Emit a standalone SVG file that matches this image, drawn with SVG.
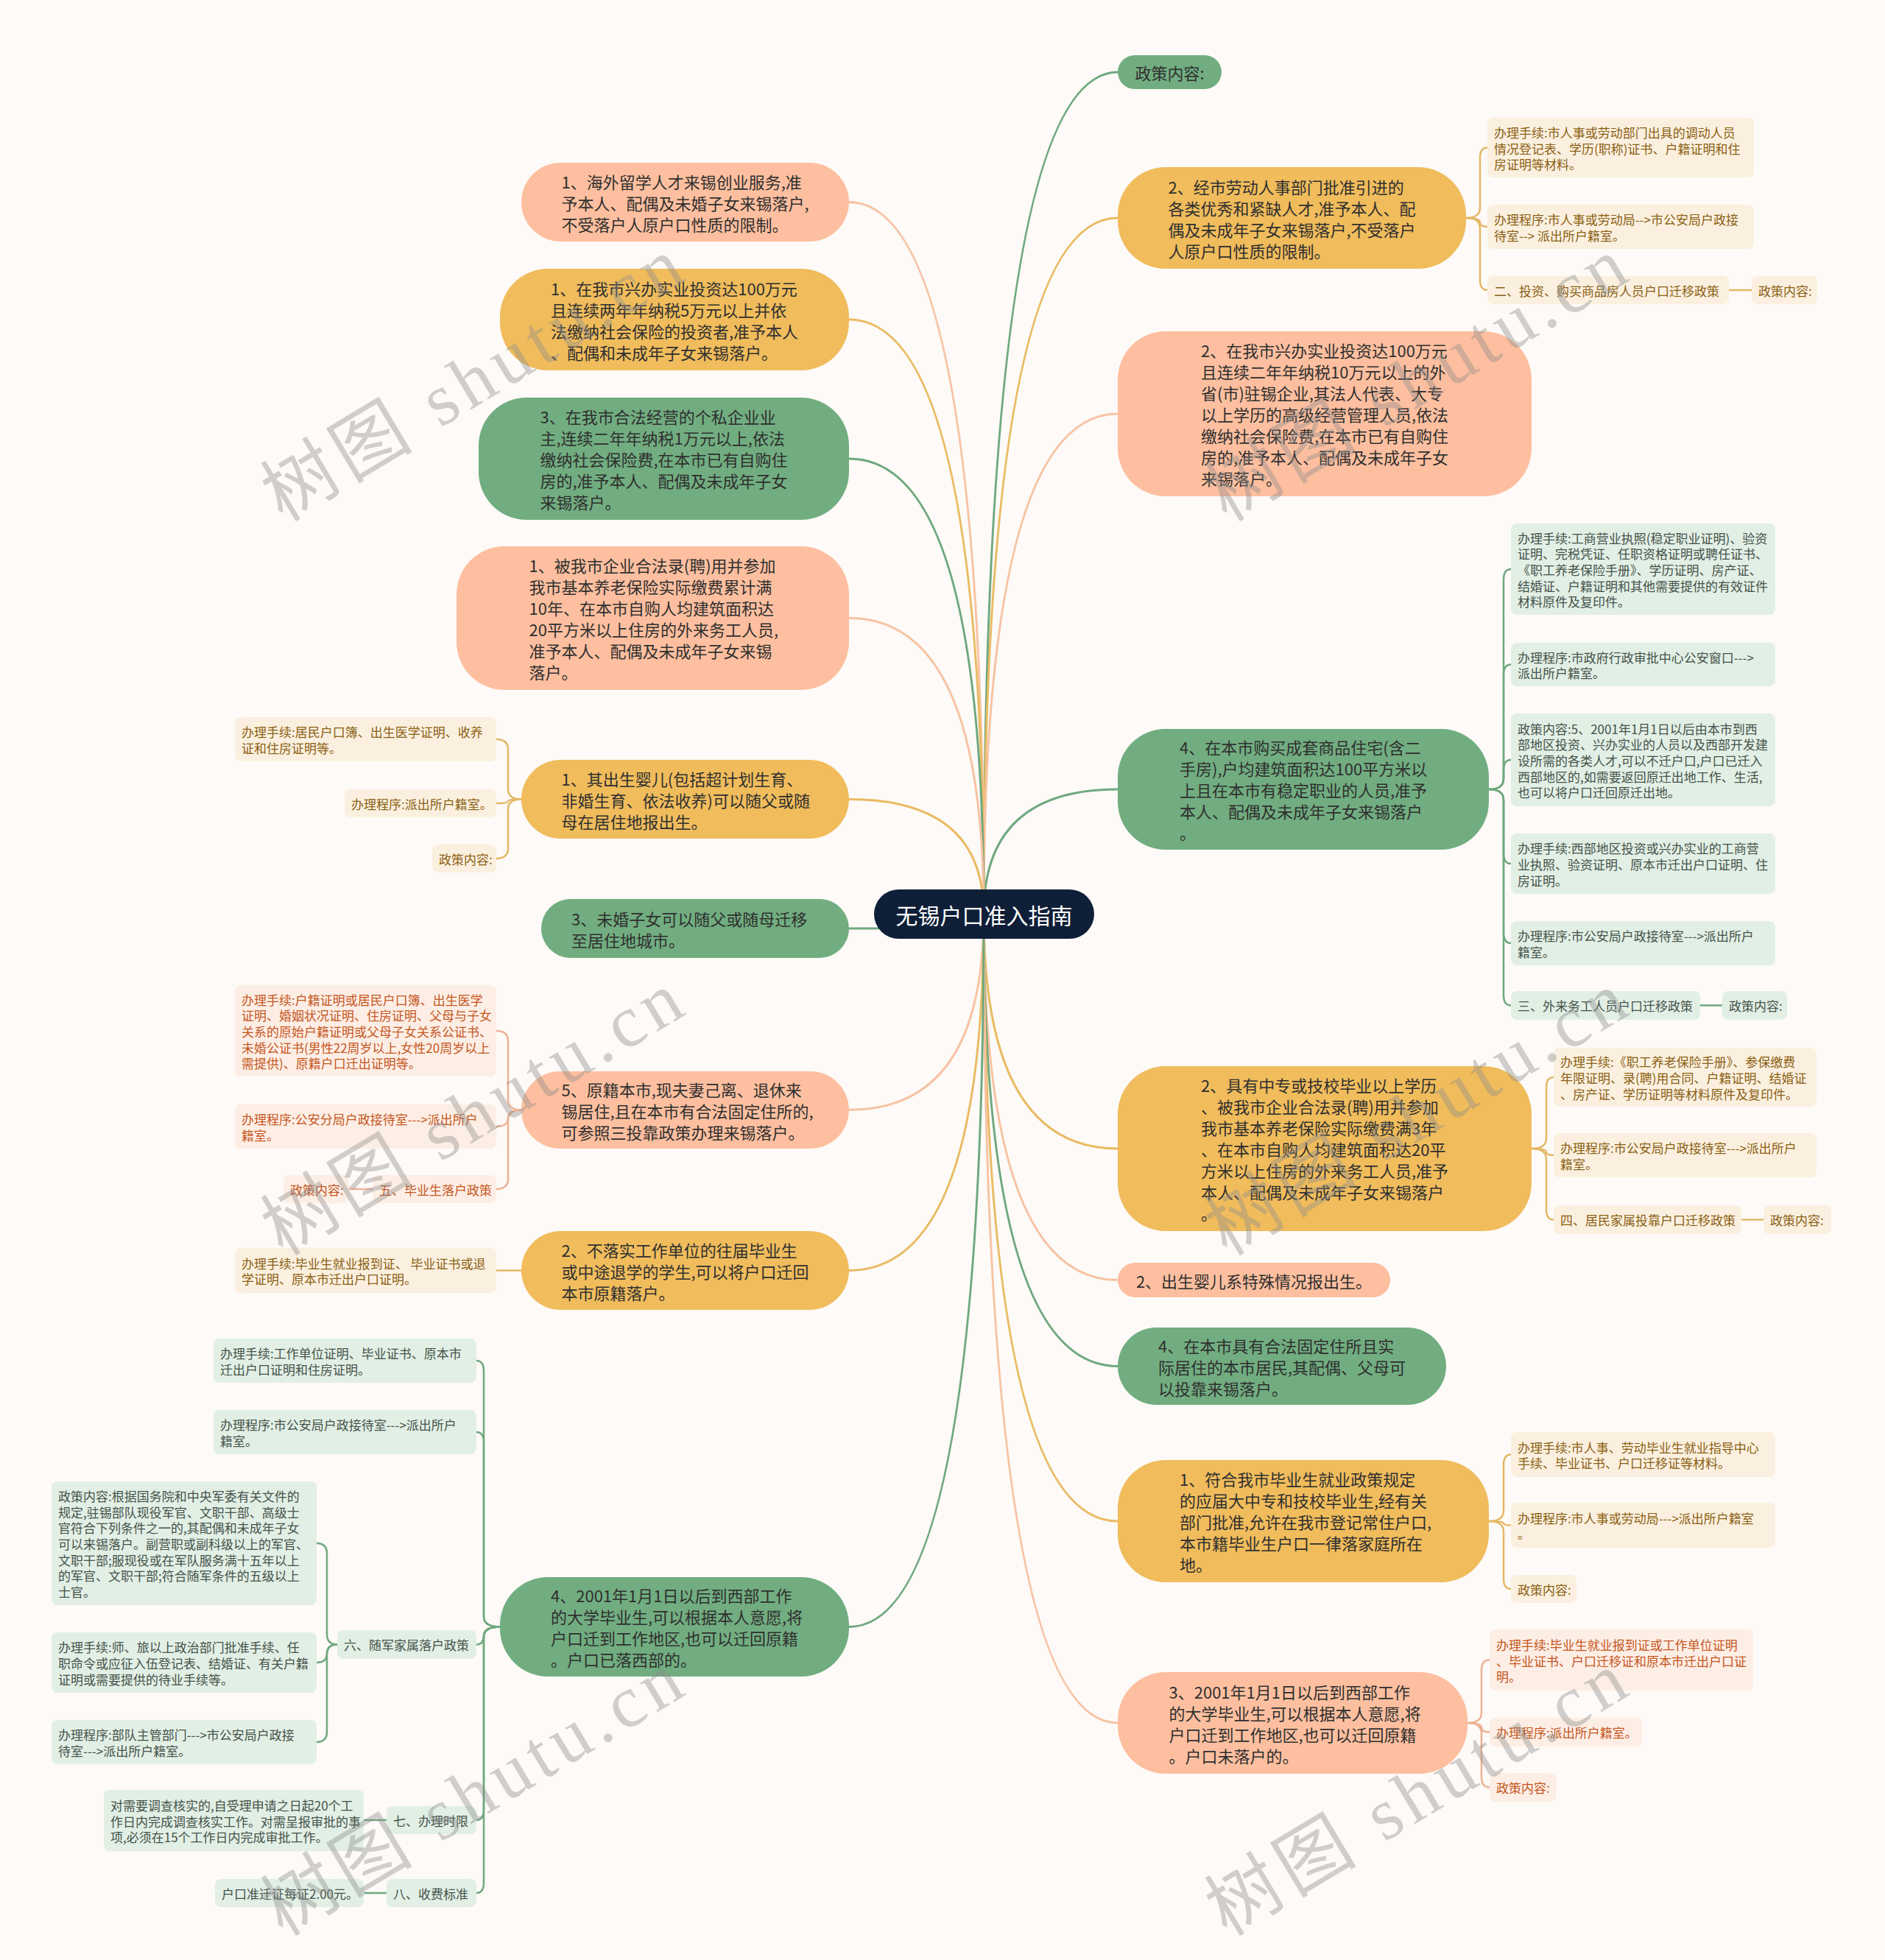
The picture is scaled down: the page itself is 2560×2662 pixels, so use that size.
<svg xmlns="http://www.w3.org/2000/svg" width="2560" height="2662" viewBox="0 0 2560 2662">
<style>
.mt{font-family:"Noto Sans CJK SC","Noto Sans",sans-serif;font-size:22px;fill:#2f2f2f;dominant-baseline:central}
.st{font-family:"Noto Sans CJK SC","Noto Sans",sans-serif;font-size:17px;dominant-baseline:central}
.np{fill:#fdbf9f}.ng{fill:#f0bc5c}.nn{fill:#71ad80}
.bp{fill:#fdeee5}.bg{fill:#fbf0df}.bn{fill:#e2efe5}
.tp{fill:#c4561e}.tg{fill:#8a5f14}.tn{fill:#44524a}
.lp{fill:none;stroke:#f7c3a3;stroke-width:3}
.lg{fill:none;stroke:#e9bb62;stroke-width:3}
.ln{fill:none;stroke:#6fa87f;stroke-width:3}
.cp{fill:none;stroke:#eeb295;stroke-width:2.5}
.cg{fill:none;stroke:#e3b866;stroke-width:2.5}
.cn{fill:none;stroke:#6fa87f;stroke-width:2.5}
.wm{font-family:"Liberation Serif","Noto Sans CJK SC",serif;font-size:100px;fill:#8c8c8c;fill-opacity:0.4;letter-spacing:8px;text-anchor:middle;dominant-baseline:central}
</style>
<rect width="2560" height="2662" fill="#fdfaf7"/>

<g id="connectors">
<path class="ln" d="M1336 1241 Q1336 98 1518 98"/>
<path class="lg" d="M1336 1241 Q1336 296 1518 296"/>
<path class="lp" d="M1336 1241 Q1336 562 1518 562"/>
<path class="ln" d="M1336 1241 Q1336 1072 1518 1072"/>
<path class="lg" d="M1336 1241 Q1336 1560 1518 1560"/>
<path class="lp" d="M1336 1241 Q1336 1738.5 1518 1738.5"/>
<path class="ln" d="M1336 1241 Q1336 1855.5 1518 1855.5"/>
<path class="lg" d="M1336 1241 Q1336 2066 1518 2066"/>
<path class="lp" d="M1336 1241 Q1336 2340 1518 2340"/>
<path class="lp" d="M1336 1241 Q1336 274.5 1153 274.5"/>
<path class="lg" d="M1336 1241 Q1336 434 1153 434"/>
<path class="ln" d="M1336 1241 Q1336 623 1153 623"/>
<path class="lp" d="M1336 1241 Q1336 839.5 1153 839.5"/>
<path class="lg" d="M1336 1241 Q1336 1085.5 1153 1085.5"/>
<path class="ln" d="M1336 1241 Q1336 1261 1153 1261"/>
<path class="lp" d="M1336 1241 Q1336 1507.5 1153 1507.5"/>
<path class="lg" d="M1336 1241 Q1336 1725.5 1153 1725.5"/>
<path class="ln" d="M1336 1241 Q1336 2209.5 1153 2209.5"/>

<path class="cg" d="M1991 296 Q2010 296 2010 282 L2010 214.5 Q2010 200.5 2020 200.5"/>
<path class="cg" d="M1991 296 Q2010 296 2010 302 L2010 302 Q2010 308 2020 308"/>
<path class="cg" d="M1991 296 Q2010 296 2010 310 L2010 380 Q2010 394 2020 394"/>
<path class="cg" d="M2348 394 L2379 394"/>

<path class="cn" d="M2022 1072 Q2042 1072 2042 1058 L2042 787 Q2042 773 2052 773"/>
<path class="cn" d="M2022 1072 Q2042 1072 2042 1058 L2042 916.5 Q2042 902.5 2052 902.5"/>
<path class="cn" d="M2022 1072 Q2042 1072 2042 1058 L2042 1046 Q2042 1032 2052 1032"/>
<path class="cn" d="M2022 1072 Q2042 1072 2042 1086 L2042 1159 Q2042 1173 2052 1173"/>
<path class="cn" d="M2022 1072 Q2042 1072 2042 1086 L2042 1267 Q2042 1281 2052 1281"/>
<path class="cn" d="M2022 1072 Q2042 1072 2042 1086 L2042 1351.5 Q2042 1365.5 2052 1365.5"/>
<path class="cn" d="M2309 1365.5 L2339 1365.5"/>

<path class="cg" d="M2080 1560 Q2100 1560 2100 1546 L2100 1477 Q2100 1463 2110 1463"/>
<path class="cg" d="M2080 1560 Q2100 1560 2100 1564.5 L2100 1564.5 Q2100 1569 2110 1569"/>
<path class="cg" d="M2080 1560 Q2100 1560 2100 1574 L2100 1642.5 Q2100 1656.5 2110 1656.5"/>
<path class="cg" d="M2365 1656.5 L2395 1656.5"/>

<path class="cg" d="M2022 2066 Q2042 2066 2042 2052 L2042 1989.5 Q2042 1975.5 2052 1975.5"/>
<path class="cg" d="M2022 2066 Q2042 2066 2042 2068.75 L2042 2068.75 Q2042 2071.5 2052 2071.5"/>
<path class="cg" d="M2022 2066 Q2042 2066 2042 2080 L2042 2144 Q2042 2158 2052 2158"/>

<path class="cp" d="M1993 2340 Q2012 2340 2012 2326 L2012 2268.5 Q2012 2254.5 2023 2254.5"/>
<path class="cp" d="M1993 2340 Q2012 2340 2012 2346.25 L2012 2346.25 Q2012 2352.5 2023 2352.5"/>
<path class="cp" d="M1993 2340 Q2012 2340 2012 2354 L2012 2413.5 Q2012 2427.5 2023 2427.5"/>

<path class="cg" d="M708 1085.5 Q690 1085.5 690 1071.5 L690 1018 Q690 1004 674 1004"/>
<path class="cg" d="M708 1085.5 Q690 1085.5 690 1088.25 L690 1088.25 Q690 1091 674 1091"/>
<path class="cg" d="M708 1085.5 Q690 1085.5 690 1099.5 L690 1152 Q690 1166 674 1166"/>

<path class="cp" d="M708 1507.5 Q690 1507.5 690 1493.5 L690 1414 Q690 1400 674 1400"/>
<path class="cp" d="M708 1507.5 Q690 1507.5 690 1518.75 L690 1518.75 Q690 1530 674 1530"/>
<path class="cp" d="M708 1507.5 Q690 1507.5 690 1521.5 L690 1601 Q690 1615 674 1615"/>
<path class="cp" d="M506 1615 L474 1615"/>

<path class="cg" d="M708 1725.5 L674 1725.5"/>

<path class="cn" d="M679 2209.5 Q657 2209.5 657 2195.5 L657 1862 Q657 1848 647 1848"/>
<path class="cn" d="M679 2209.5 Q657 2209.5 657 2195.5 L657 1959 Q657 1945 647 1945"/>
<path class="cn" d="M679 2209.5 Q657 2209.5 657 2221.5 L657 2221.5 Q657 2233.5 647 2233.5"/>
<path class="cn" d="M679 2209.5 Q657 2209.5 657 2223.5 L657 2458 Q657 2472 647 2472"/>
<path class="cn" d="M679 2209.5 Q657 2209.5 657 2223.5 L657 2557 Q657 2571 647 2571"/>
<path class="cn" d="M525 2472 L494 2472"/>
<path class="cn" d="M525 2571 L494 2571"/>

<path class="cn" d="M458 2233.5 Q444 2233.5 444 2219.5 L444 2110 Q444 2096 430 2096"/>
<path class="cn" d="M458 2233.5 Q444 2233.5 444 2245.75 L444 2245.75 Q444 2258 430 2258"/>
<path class="cn" d="M458 2233.5 Q444 2233.5 444 2247.5 L444 2352 Q444 2366 430 2366"/>
</g>

<g id="root">
<rect x="1187" y="1208" width="299" height="67" rx="33.5" fill="#0f1f38"/>
<text x="1336.5" y="1241.5" font-family="'Noto Sans CJK SC','Noto Sans',sans-serif" font-size="30" fill="#ffffff" text-anchor="middle" dominant-baseline="central">无锡户口准入指南</text>
</g>

<!-- Left main nodes -->
<g id="L1"><rect class="np" x="708" y="221" width="445" height="107" rx="53.5"/>
<text class="mt"><tspan x="762.5" y="245.5">1、海外留学人才来锡创业服务,准</tspan><tspan x="762.5" y="274.5">予本人、配偶及未婚子女来锡落户,</tspan><tspan x="762.5" y="303.5">不受落户人原户口性质的限制。</tspan></text></g>
<g id="L2"><rect class="ng" x="679" y="365" width="474" height="138" rx="65"/>
<text class="mt"><tspan x="748" y="390.5">1、在我市兴办实业投资达100万元</tspan><tspan x="748" y="419.5">且连续两年年纳税5万元以上并依</tspan><tspan x="748" y="448.5">法缴纳社会保险的投资者,准予本人</tspan><tspan x="748" y="477.5">、配偶和未成年子女来锡落户。</tspan></text></g>
<g id="L3"><rect class="nn" x="650" y="540" width="503" height="166" rx="65"/>
<text class="mt"><tspan x="733.5" y="565">3、在我市合法经营的个私企业业</tspan><tspan x="733.5" y="594">主,连续二年年纳税1万元以上,依法</tspan><tspan x="733.5" y="623">缴纳社会保险费,在本市已有自购住</tspan><tspan x="733.5" y="652">房的,准予本人、配偶及未成年子女</tspan><tspan x="733.5" y="681">来锡落户。</tspan></text></g>
<g id="L4"><rect class="np" x="620" y="742" width="533" height="195" rx="65"/>
<text class="mt"><tspan x="718.5" y="767">1、被我市企业合法录(聘)用并参加</tspan><tspan x="718.5" y="796">我市基本养老保险实际缴费累计满</tspan><tspan x="718.5" y="825">10年、在本市自购人均建筑面积达</tspan><tspan x="718.5" y="854">20平方米以上住房的外来务工人员,</tspan><tspan x="718.5" y="883">准予本人、配偶及未成年子女来锡</tspan><tspan x="718.5" y="912">落户。</tspan></text></g>
<g id="L5"><rect class="ng" x="708" y="1032" width="445" height="107" rx="53.5"/>
<text class="mt"><tspan x="762.5" y="1056.5">1、其出生婴儿(包括超计划生育、</tspan><tspan x="762.5" y="1085.5">非婚生育、依法收养)可以随父或随</tspan><tspan x="762.5" y="1114.5">母在居住地报出生。</tspan></text></g>
<g id="L6"><rect class="nn" x="735" y="1221" width="418" height="80" rx="40"/>
<text class="mt"><tspan x="776" y="1246.5">3、未婚子女可以随父或随母迁移</tspan><tspan x="776" y="1275.5">至居住地城市。</tspan></text></g>
<g id="L7"><rect class="np" x="708" y="1455" width="445" height="105" rx="52.5"/>
<text class="mt"><tspan x="762.5" y="1478.5">5、原籍本市,现夫妻己离、退休来</tspan><tspan x="762.5" y="1507.5">锡居住,且在本市有合法固定住所的,</tspan><tspan x="762.5" y="1536.5">可参照三投靠政策办理来锡落户。</tspan></text></g>
<g id="L8"><rect class="ng" x="708" y="1672" width="445" height="107" rx="53.5"/>
<text class="mt"><tspan x="762.5" y="1696.5">2、不落实工作单位的往届毕业生</tspan><tspan x="762.5" y="1725.5">或中途退学的学生,可以将户口迁回</tspan><tspan x="762.5" y="1754.5">本市原籍落户。</tspan></text></g>
<g id="L9"><rect class="nn" x="679" y="2142" width="474" height="135" rx="65"/>
<text class="mt"><tspan x="748" y="2166">4、2001年1月1日以后到西部工作</tspan><tspan x="748" y="2195">的大学毕业生,可以根据本人意愿,将</tspan><tspan x="748" y="2224">户口迁到工作地区,也可以迁回原籍</tspan><tspan x="748" y="2253">。户口已落西部的。</tspan></text></g>

<!-- Right main nodes -->
<g id="R1"><rect class="nn" x="1518" y="75" width="141" height="46" rx="23"/>
<text class="mt" x="1588.5" y="98" text-anchor="middle">政策内容:</text></g>
<g id="R2"><rect class="ng" x="1518" y="227" width="473" height="138" rx="65"/>
<text class="mt"><tspan x="1586.5" y="252.5">2、经市劳动人事部门批准引进的</tspan><tspan x="1586.5" y="281.5">各类优秀和紧缺人才,准予本人、配</tspan><tspan x="1586.5" y="310.5">偶及未成年子女来锡落户,不受落户</tspan><tspan x="1586.5" y="339.5">人原户口性质的限制。</tspan></text></g>
<g id="R3"><rect class="np" x="1518" y="450" width="562" height="224" rx="65"/>
<text class="mt"><tspan x="1631" y="475">2、在我市兴办实业投资达100万元</tspan><tspan x="1631" y="504">且连续二年年纳税10万元以上的外</tspan><tspan x="1631" y="533">省(市)驻锡企业,其法人代表、大专</tspan><tspan x="1631" y="562">以上学历的高级经营管理人员,依法</tspan><tspan x="1631" y="591">缴纳社会保险费,在本市已有自购住</tspan><tspan x="1631" y="620">房的,准予本人、配偶及未成年子女</tspan><tspan x="1631" y="649">来锡落户。</tspan></text></g>
<g id="R4"><rect class="nn" x="1518" y="990" width="504" height="164" rx="65"/>
<text class="mt"><tspan x="1602" y="1014">4、在本市购买成套商品住宅(含二</tspan><tspan x="1602" y="1043">手房),户均建筑面积达100平方米以</tspan><tspan x="1602" y="1072">上且在本市有稳定职业的人员,准予</tspan><tspan x="1602" y="1101">本人、配偶及未成年子女来锡落户</tspan><tspan x="1602" y="1130">。</tspan></text></g>
<g id="R5"><rect class="ng" x="1518" y="1448" width="562" height="224" rx="65"/>
<text class="mt"><tspan x="1631" y="1473">2、具有中专或技校毕业以上学历</tspan><tspan x="1631" y="1502">、被我市企业合法录(聘)用并参加</tspan><tspan x="1631" y="1531">我市基本养老保险实际缴费满3年</tspan><tspan x="1631" y="1560">、在本市自购人均建筑面积达20平</tspan><tspan x="1631" y="1589">方米以上住房的外来务工人员,准予</tspan><tspan x="1631" y="1618">本人、配偶及未成年子女来锡落户</tspan><tspan x="1631" y="1647">。</tspan></text></g>
<g id="R6"><rect class="np" x="1518" y="1715" width="370" height="47" rx="23.5"/>
<text class="mt" x="1703" y="1738.5" text-anchor="middle">2、出生婴儿系特殊情况报出生。</text></g>
<g id="R7"><rect class="nn" x="1518" y="1803" width="446" height="105" rx="52.5"/>
<text class="mt"><tspan x="1573" y="1826.5">4、在本市具有合法固定住所且实</tspan><tspan x="1573" y="1855.5">际居住的本市居民,其配偶、父母可</tspan><tspan x="1573" y="1884.5">以投靠来锡落户。</tspan></text></g>
<g id="R8"><rect class="ng" x="1518" y="1983" width="504" height="166" rx="65"/>
<text class="mt"><tspan x="1602" y="2008">1、符合我市毕业生就业政策规定</tspan><tspan x="1602" y="2037">的应届大中专和技校毕业生,经有关</tspan><tspan x="1602" y="2066">部门批准,允许在我市登记常住户口,</tspan><tspan x="1602" y="2095">本市籍毕业生户口一律落家庭所在</tspan><tspan x="1602" y="2124">地。</tspan></text></g>
<g id="R9"><rect class="np" x="1518" y="2271" width="475" height="138" rx="65"/>
<text class="mt"><tspan x="1587.5" y="2296.5">3、2001年1月1日以后到西部工作</tspan><tspan x="1587.5" y="2325.5">的大学毕业生,可以根据本人意愿,将</tspan><tspan x="1587.5" y="2354.5">户口迁到工作地区,也可以迁回原籍</tspan><tspan x="1587.5" y="2383.5">。户口未落户的。</tspan></text></g>

<!-- R2 children -->
<g id="R2c1"><rect class="bg" x="2020" y="160" width="362" height="81" rx="8"/>
<text class="st tg"><tspan x="2029" y="178.8">办理手续:市人事或劳动部门出具的调动人员</tspan><tspan x="2029" y="200.5">情况登记表、学历(职称)证书、户籍证明和住</tspan><tspan x="2029" y="222.2">房证明等材料。</tspan></text></g>
<g id="R2c2"><rect class="bg" x="2020" y="278" width="362" height="60" rx="8"/>
<text class="st tg"><tspan x="2029" y="297.2">办理程序:市人事或劳动局--&gt;市公安局户政接</tspan><tspan x="2029" y="318.8">待室--&gt; 派出所户籍室。</tspan></text></g>
<g id="R2c3"><rect class="bg" x="2020" y="375" width="328" height="38" rx="8"/>
<text class="st tg" x="2029" y="394">二、投资、购买商品房人员户口迁移政策</text></g>
<g id="R2c4"><rect class="bg" x="2379" y="375" width="89" height="38" rx="8"/>
<text class="st tg" x="2388" y="394">政策内容:</text></g>

<!-- R4 children -->
<g id="R4c1"><rect class="bn" x="2052" y="711" width="359" height="124" rx="8"/>
<text class="st tn"><tspan x="2061" y="729.6">办理手续:工商营业执照(稳定职业证明)、验资</tspan><tspan x="2061" y="751.3">证明、完税凭证、任职资格证明或聘任证书、</tspan><tspan x="2061" y="773">《职工养老保险手册》、学历证明、房产证、</tspan><tspan x="2061" y="794.7">结婚证、户籍证明和其他需要提供的有效证件</tspan><tspan x="2061" y="816.4">材料原件及复印件。</tspan></text></g>
<g id="R4c2"><rect class="bn" x="2052" y="873" width="359" height="59" rx="8"/>
<text class="st tn"><tspan x="2061" y="891.7">办理程序:市政府行政审批中心公安窗口---&gt;</tspan><tspan x="2061" y="913.3">派出所户籍室。</tspan></text></g>
<g id="R4c3"><rect class="bn" x="2052" y="969" width="359" height="126" rx="8"/>
<text class="st tn"><tspan x="2061" y="988.6">政策内容:5、2001年1月1日以后由本市到西</tspan><tspan x="2061" y="1010.3">部地区投资、兴办实业的人员以及西部开发建</tspan><tspan x="2061" y="1032">设所需的各类人才,可以不迁户口,户口已迁入</tspan><tspan x="2061" y="1053.7">西部地区的,如需要返回原迁出地工作、生活,</tspan><tspan x="2061" y="1075.4">也可以将户口迁回原迁出地。</tspan></text></g>
<g id="R4c4"><rect class="bn" x="2052" y="1132" width="359" height="82" rx="8"/>
<text class="st tn"><tspan x="2061" y="1151.3">办理手续:西部地区投资或兴办实业的工商营</tspan><tspan x="2061" y="1173">业执照、验资证明、原本市迁出户口证明、住</tspan><tspan x="2061" y="1194.7">房证明。</tspan></text></g>
<g id="R4c5"><rect class="bn" x="2052" y="1251" width="359" height="60" rx="8"/>
<text class="st tn"><tspan x="2061" y="1270.2">办理程序:市公安局户政接待室---&gt;派出所户</tspan><tspan x="2061" y="1291.8">籍室。</tspan></text></g>
<g id="R4c6"><rect class="bn" x="2052" y="1346" width="257" height="39" rx="8"/>
<text class="st tn" x="2061" y="1365.5">三、外来务工人员户口迁移政策</text></g>
<g id="R4c7"><rect class="bn" x="2339" y="1346" width="88" height="39" rx="8"/>
<text class="st tn" x="2348" y="1365.5">政策内容:</text></g>

<!-- R5 children -->
<g id="R5c1"><rect class="bg" x="2110" y="1423" width="357" height="80" rx="8"/>
<text class="st tg"><tspan x="2119" y="1441.3">办理手续:《职工养老保险手册》、参保缴费</tspan><tspan x="2119" y="1463">年限证明、录(聘)用合同、户籍证明、结婚证</tspan><tspan x="2119" y="1484.7">、房产证、学历证明等材料原件及复印件。</tspan></text></g>
<g id="R5c2"><rect class="bg" x="2110" y="1539" width="357" height="60" rx="8"/>
<text class="st tg"><tspan x="2119" y="1558.2">办理程序:市公安局户政接待室---&gt;派出所户</tspan><tspan x="2119" y="1579.8">籍室。</tspan></text></g>
<g id="R5c3"><rect class="bg" x="2110" y="1637" width="255" height="39" rx="8"/>
<text class="st tg" x="2119" y="1656.5">四、居民家属投靠户口迁移政策</text></g>
<g id="R5c4"><rect class="bg" x="2395" y="1637" width="92" height="39" rx="8"/>
<text class="st tg" x="2404" y="1656.5">政策内容:</text></g>

<!-- R8 children -->
<g id="R8c1"><rect class="bg" x="2052" y="1945" width="359" height="61" rx="8"/>
<text class="st tg"><tspan x="2061" y="1964.7">办理手续:市人事、劳动毕业生就业指导中心</tspan><tspan x="2061" y="1986.3">手续、毕业证书、户口迁移证等材料。</tspan></text></g>
<g id="R8c2"><rect class="bg" x="2052" y="2041" width="359" height="61" rx="8"/>
<text class="st tg"><tspan x="2061" y="2060.7">办理程序:市人事或劳动局---&gt;派出所户籍室</tspan><tspan x="2061" y="2082.3">。</tspan></text></g>
<g id="R8c3"><rect class="bg" x="2052" y="2139" width="89" height="38" rx="8"/>
<text class="st tg" x="2061" y="2158">政策内容:</text></g>

<!-- R9 children -->
<g id="R9c1"><rect class="bp" x="2023" y="2213" width="358" height="83" rx="8"/>
<text class="st tp"><tspan x="2032" y="2232.8">办理手续:毕业生就业报到证或工作单位证明</tspan><tspan x="2032" y="2254.5">、毕业证书、户口迁移证和原本市迁出户口证</tspan><tspan x="2032" y="2276.2">明。</tspan></text></g>
<g id="R9c2"><rect class="bp" x="2023" y="2333" width="207" height="39" rx="8"/>
<text class="st tp" x="2032" y="2352.5">办理程序:派出所户籍室。</text></g>
<g id="R9c3"><rect class="bp" x="2023" y="2408" width="91" height="39" rx="8"/>
<text class="st tp" x="2032" y="2427.5">政策内容:</text></g>

<!-- L5 children -->
<g id="L5c1"><rect class="bg" x="319" y="974" width="355" height="60" rx="8"/>
<text class="st tg"><tspan x="328" y="993.2">办理手续:居民户口簿、出生医学证明、收养</tspan><tspan x="328" y="1014.8">证和住房证明等。</tspan></text></g>
<g id="L5c2"><rect class="bg" x="468" y="1072" width="206" height="38" rx="8"/>
<text class="st tg" x="477" y="1091">办理程序:派出所户籍室。</text></g>
<g id="L5c3"><rect class="bg" x="587" y="1147" width="87" height="38" rx="8"/>
<text class="st tg" x="596" y="1166">政策内容:</text></g>

<!-- L7 children -->
<g id="L7c1"><rect class="bp" x="319" y="1338" width="355" height="124" rx="8"/>
<text class="st tp"><tspan x="328" y="1356.6">办理手续:户籍证明或居民户口簿、出生医学</tspan><tspan x="328" y="1378.3">证明、婚姻状况证明、住房证明、父母与子女</tspan><tspan x="328" y="1400">关系的原始户籍证明或父母子女关系公证书、</tspan><tspan x="328" y="1421.7">未婚公证书(男性22周岁以上,女性20周岁以上</tspan><tspan x="328" y="1443.4">需提供)、原籍户口迁出证明等。</tspan></text></g>
<g id="L7c2"><rect class="bp" x="319" y="1500" width="355" height="60" rx="8"/>
<text class="st tp"><tspan x="328" y="1519.2">办理程序:公安分局户政接待室---&gt;派出所户</tspan><tspan x="328" y="1540.8">籍室。</tspan></text></g>
<g id="L7c3"><rect class="bp" x="506" y="1596" width="168" height="38" rx="8"/>
<text class="st tp" x="515" y="1615">五、毕业生落户政策</text></g>
<g id="L7c4"><rect class="bp" x="385" y="1596" width="89" height="38" rx="8"/>
<text class="st tp" x="394" y="1615">政策内容:</text></g>

<!-- L8 child -->
<g id="L8c1"><rect class="bg" x="319" y="1695" width="355" height="61" rx="8"/>
<text class="st tg"><tspan x="328" y="1714.7">办理手续:毕业生就业报到证、 毕业证书或退</tspan><tspan x="328" y="1736.3">学证明、原本市迁出户口证明。</tspan></text></g>

<!-- L9 children -->
<g id="L9c1"><rect class="bn" x="290" y="1818" width="357" height="60" rx="8"/>
<text class="st tn"><tspan x="299" y="1837.2">办理手续:工作单位证明、毕业证书、原本市</tspan><tspan x="299" y="1858.8">迁出户口证明和住房证明。</tspan></text></g>
<g id="L9c2"><rect class="bn" x="290" y="1915" width="357" height="60" rx="8"/>
<text class="st tn"><tspan x="299" y="1934.2">办理程序:市公安局户政接待室---&gt;派出所户</tspan><tspan x="299" y="1955.8">籍室。</tspan></text></g>
<g id="L9c3"><rect class="bn" x="458" y="2214" width="189" height="39" rx="8"/>
<text class="st tn" x="467" y="2233.5">六、随军家属落户政策</text></g>
<g id="L9s1"><rect class="bn" x="70" y="2012" width="360" height="168" rx="8"/>
<text class="st tn"><tspan x="79" y="2030.9">政策内容:根据国务院和中央军委有关文件的</tspan><tspan x="79" y="2052.6">规定,驻锡部队现役军官、文职干部、高级士</tspan><tspan x="79" y="2074.3">官符合下列条件之一的,其配偶和未成年子女</tspan><tspan x="79" y="2096">可以来锡落户。副营职或副科级以上的军官、</tspan><tspan x="79" y="2117.7">文职干部;服现役或在军队服务满十五年以上</tspan><tspan x="79" y="2139.4">的军官、文职干部;符合随军条件的五级以上</tspan><tspan x="79" y="2161.1">士官。</tspan></text></g>
<g id="L9s2"><rect class="bn" x="70" y="2217" width="360" height="82" rx="8"/>
<text class="st tn"><tspan x="79" y="2236.3">办理手续:师、旅以上政治部门批准手续、任</tspan><tspan x="79" y="2258">职命令或应征入伍登记表、结婚证、有关户籍</tspan><tspan x="79" y="2279.7">证明或需要提供的待业手续等。</tspan></text></g>
<g id="L9s3"><rect class="bn" x="70" y="2336" width="360" height="60" rx="8"/>
<text class="st tn"><tspan x="79" y="2355.2">办理程序:部队主管部门---&gt;市公安局户政接</tspan><tspan x="79" y="2376.8">待室---&gt;派出所户籍室。</tspan></text></g>
<g id="L9c4"><rect class="bn" x="525" y="2453" width="122" height="38" rx="8"/>
<text class="st tn" x="534" y="2472">七、办理时限</text></g>
<g id="L9t1"><rect class="bn" x="141" y="2431" width="353" height="83" rx="8"/>
<text class="st tn"><tspan x="150" y="2450.8">对需要调查核实的,自受理申请之日起20个工</tspan><tspan x="150" y="2472.5">作日内完成调查核实工作。对需呈报审批的事</tspan><tspan x="150" y="2494.2">项,必须在15个工作日内完成审批工作。</tspan></text></g>
<g id="L9c5"><rect class="bn" x="525" y="2552" width="122" height="38" rx="8"/>
<text class="st tn" x="534" y="2571">八、收费标准</text></g>
<g id="L9t2"><rect class="bn" x="292" y="2552" width="202" height="38" rx="8"/>
<text class="st tn" x="301" y="2571">户口准迁证每证2.00元。</text></g>

<g id="watermarks">
<text class="wm" transform="translate(645 514) rotate(-31)">树图 shutu.cn</text>
<text class="wm" transform="translate(1927 514) rotate(-31)">树图 shutu.cn</text>
<text class="wm" transform="translate(645 1511) rotate(-31)">树图 shutu.cn</text>
<text class="wm" transform="translate(1927 1511) rotate(-31)">树图 shutu.cn</text>
<text class="wm" transform="translate(645 2435) rotate(-31)">树图 shutu.cn</text>
<text class="wm" transform="translate(1927 2435) rotate(-31)">树图 shutu.cn</text>
</g>
</svg>
